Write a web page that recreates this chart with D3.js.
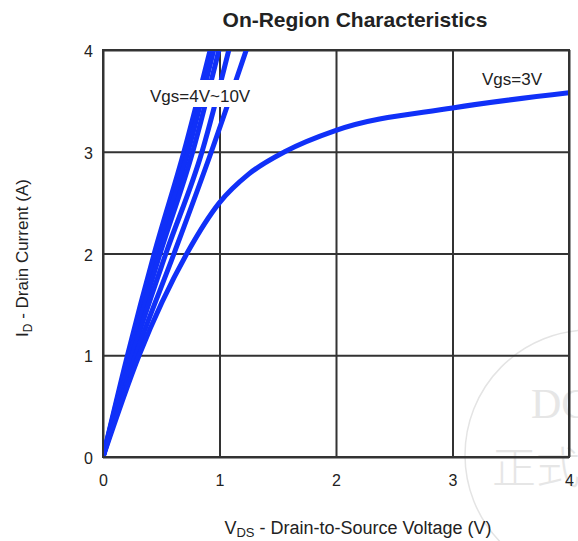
<!DOCTYPE html>
<html>
<head>
<meta charset="utf-8">
<script src="https://cdn.jsdelivr.net/npm/d3@7"></script>
<style>
  html, body { margin: 0; padding: 0; background: #fff; }
  svg { display: block; font-family: "Liberation Sans", Arial, sans-serif; }
</style>
</head>
<body>
<svg id="chart" width="578" height="541"></svg>
<script>
// Axis ticks
const xTicks = [0, 1, 2, 3, 4];
const yTicks = [0, 1, 2, 3, 4];

// Drain-to-source voltage (V) and drain current (A) per gate voltage
const vgs10V = [0, 0.21, 0.44, 0.695, 0.92];
const vgs10I = [0, 1, 2, 3, 4];
const vgs8V  = [0, 0.22, 0.46, 0.73, 0.95];
const vgs8I  = [0, 1, 2, 3, 4];
const vgs6V  = [0, 0.23, 0.49, 0.77, 0.995];
const vgs6I  = [0, 1, 2, 3, 4];
const vgs5V  = [0, 0.25, 0.54, 0.85, 1.08];
const vgs5I  = [0, 1, 2, 3, 4];
const vgs4V  = [0, 0.28, 0.61, 0.93, 1.23];
const vgs4I  = [0, 1, 2, 3, 4];
const vgs3V  = [0, 0.31, 0.72, 1.0, 1.25, 1.56, 2.0, 3.0, 4.0];
const vgs3I  = [0, 1, 2, 2.5, 2.78, 3.0, 3.21, 3.43, 3.58];

const curves = [
  { name: "10V", v: vgs10V, i: vgs10I },
  { name: "8V",  v: vgs8V,  i: vgs8I },
  { name: "6V",  v: vgs6V,  i: vgs6I },
  { name: "5V",  v: vgs5V,  i: vgs5I },
  { name: "4V",  v: vgs4V,  i: vgs4I },
  { name: "3V",  v: vgs3V,  i: vgs3I }
];

const svg = d3.select("#chart");
const plotL = 103, plotR = 569, plotT = 50, plotB = 457;

const x = d3.scaleLinear().domain([0, 4]).range([plotL, plotR]);
const y = d3.scaleLinear().domain([0, 4]).range([plotB, plotT]);

const gridColor = "#333";

// Watermark stamp
const stamp = svg.append("g").attr("fill", "none");
stamp.append("circle").attr("cx", 590).attr("cy", 455).attr("r", 125)
  .attr("stroke", "#e4e4e4").attr("stroke-width", 1.5);
stamp.append("text").attr("x", 531).attr("y", 418)
  .attr("font-family", "'Liberation Serif', serif").attr("font-size", 42)
  .attr("fill", "#e6e6e6").text("DC");
stamp.append("text").attr("x", 492).attr("y", 484)
  .attr("font-family", "'Noto Sans CJK SC', sans-serif").attr("font-weight", 300)
  .attr("font-size", 44).attr("fill", "#e6e6e6").text("正式");

// Grid lines
svg.append("g")
  .attr("transform", `translate(0,${plotB})`)
  .call(d3.axisBottom(x).tickValues(xTicks).tickSize(-(plotB - plotT)).tickFormat(""))
  .call(g => g.select(".domain").remove())
  .call(g => g.selectAll("line").attr("stroke", gridColor).attr("stroke-width", 2));
svg.append("g")
  .attr("transform", `translate(${plotL},0)`)
  .call(d3.axisLeft(y).tickValues(yTicks).tickSize(-(plotR - plotL)).tickFormat(""))
  .call(g => g.select(".domain").remove())
  .call(g => g.selectAll("line").attr("stroke", gridColor).attr("stroke-width", 2));

// Tick labels
svg.append("g")
  .attr("transform", `translate(0,${plotB})`)
  .call(d3.axisBottom(x).tickValues(xTicks).tickSize(0).tickPadding(18).tickFormat(d3.format("d")))
  .call(g => g.select(".domain").remove())
  .call(g => g.selectAll("text").attr("font-size", 16).attr("font-family", "'Liberation Sans', Arial, sans-serif").attr("fill", "#222"));
svg.append("g")
  .attr("transform", `translate(${plotL},0)`)
  .call(d3.axisLeft(y).tickValues(yTicks).tickSize(0).tickPadding(10).tickFormat(d3.format("d")))
  .call(g => g.select(".domain").remove())
  .call(g => g.selectAll("text").attr("font-size", 16).attr("dy", "0.42em").attr("font-family", "'Liberation Sans', Arial, sans-serif").attr("fill", "#222"));

// Curves
svg.append("clipPath").attr("id", "plot-clip")
  .append("rect").attr("x", plotL).attr("y", plotT).attr("width", plotR - plotL).attr("height", plotB - plotT);

const line = d3.line()
  .x(d => x(d[0]))
  .y(d => y(d[1]))
  .curve(d3.curveMonotoneX);

svg.append("g").attr("clip-path", "url(#plot-clip)")
  .selectAll("path")
  .data(curves)
  .join("path")
  .attr("d", c => line(c.v.map((v, k) => [v, c.i[k]])))
  .attr("fill", "none")
  .attr("stroke", "#1030f8")
  .attr("stroke-width", 5)
  .attr("stroke-linejoin", "round");

// Border frame
svg.append("rect")
  .attr("x", plotL).attr("y", plotT).attr("width", plotR - plotL).attr("height", plotB - plotT)
  .attr("fill", "none").attr("stroke", gridColor).attr("stroke-width", 2);

// Curve annotations (the 4V~10V label sits on a white patch over the curves)
const lab = svg.append("g");
const labText = lab.append("text").attr("x", 150).attr("y", 102)
  .attr("font-size", 17).attr("fill", "#222").text("Vgs=4V~10V");
const bb = labText.node().getBBox();
lab.insert("rect", "text")
  .attr("x", bb.x - 4).attr("y", 80).attr("width", bb.width + 8).attr("height", 27)
  .attr("fill", "#fff");
svg.append("text").attr("x", 482).attr("y", 85)
  .attr("font-size", 17).attr("fill", "#222").text("Vgs=3V");

// Title
svg.append("text").attr("x", 355).attr("y", 27)
  .attr("text-anchor", "middle").attr("font-size", 21).attr("font-weight", "bold")
  .attr("fill", "#222").text("On-Region Characteristics");

// X axis title
const xt = svg.append("text").attr("x", 358).attr("y", 534)
  .attr("text-anchor", "middle").attr("font-size", 18).attr("fill", "#222");
xt.append("tspan").text("V");
xt.append("tspan").attr("font-size", 13).attr("dy", 3).text("DS");
xt.append("tspan").attr("dy", -3).text(" - Drain-to-Source Voltage (V)");

// Y axis title
const yt = svg.append("text")
  .attr("transform", "translate(28,258) rotate(-90)")
  .attr("text-anchor", "middle").attr("font-size", 17).attr("fill", "#222");
yt.append("tspan").text("I");
yt.append("tspan").attr("font-size", 12).attr("dy", 4).text("D");
yt.append("tspan").attr("dy", -4).text(" - Drain Current (A)");
</script>
</body>
</html>
